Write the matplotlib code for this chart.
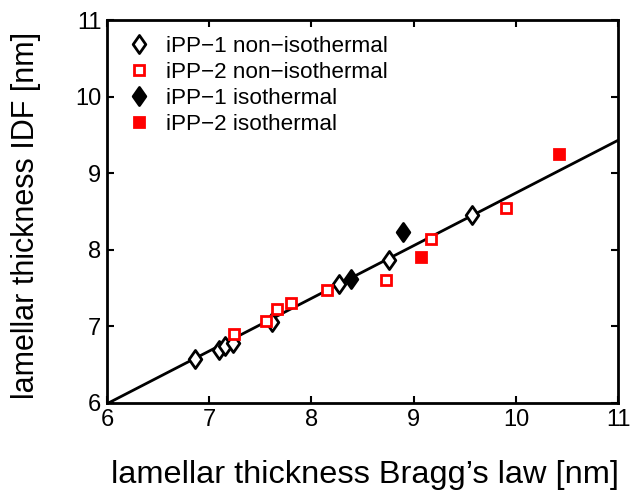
import numpy as np
import matplotlib.pyplot as plt
from matplotlib.path import Path

plt.rcParams['font.family'] = ['Liberation Sans', 'DejaVu Sans']

# lamellar thickness (Bragg's law, IDF) in nm
ipp1_non_x = [6.86, 7.10, 7.15, 7.23, 7.61, 8.27, 8.76, 9.57]
ipp1_non_y = [6.57, 6.69, 6.74, 6.78, 7.06, 7.55, 7.87, 8.45]

ipp2_non_x = [7.24, 7.56, 7.66, 7.80, 8.15, 8.73, 9.17, 9.90]
ipp2_non_y = [6.90, 7.07, 7.23, 7.31, 7.47, 7.61, 8.14, 8.55]

ipp1_iso_x = [8.39, 8.90]
ipp1_iso_y = [7.62, 8.23]

ipp2_iso_x = [9.07, 10.42]
ipp2_iso_y = [7.91, 9.25]

# linear fit
fit_x = [6.0, 11.0]
fit_y = [5.99, 9.43]

# taller-than-wide diamond
diamond = Path([(0, 1), (0.7, 0), (0, -1), (-0.7, 0), (0, 1)],
               [Path.MOVETO, Path.LINETO, Path.LINETO, Path.LINETO, Path.CLOSEPOLY])

fig = plt.figure(figsize=(6.32, 4.93), dpi=100)
ax = fig.add_axes([0.1693, 0.1826, 0.8087, 0.7768])

ax.plot(fit_x, fit_y, 'k-', lw=2, zorder=1)
ax.plot(ipp1_non_x, ipp1_non_y, marker=diamond, ms=13, mfc='white', mec='k', mew=2,
        ls='none', label='iPP\u22121 non\u2212isothermal', zorder=2)
ax.plot(ipp2_non_x, ipp2_non_y, 's', ms=7.5, mfc='white', mec='red', mew=2,
        ls='none', label='iPP\u22122 non\u2212isothermal', zorder=3)
ax.plot(ipp1_iso_x, ipp1_iso_y, marker=diamond, ms=13, mfc='k', mec='k', mew=2,
        ls='none', label='iPP\u22121 isothermal', zorder=3)
ax.plot(ipp2_iso_x, ipp2_iso_y, 's', ms=7.5, mfc='red', mec='red', mew=2,
        ls='none', label='iPP\u22122 isothermal', zorder=3)

ax.set_xlim(6, 11)
ax.set_ylim(6, 11)
ax.set_xticks(np.arange(6, 12, 1))
ax.set_yticks(np.arange(6, 12, 1))
ax.tick_params(direction='in', length=5, width=1.5, top=True, right=True,
               labelsize=17, pad=4)
for s in ax.spines.values():
    s.set_linewidth(2)

ax.set_xlabel("lamellar thickness Bragg\u2019s law [nm]", fontsize=23.4)
ax.set_ylabel('lamellar thickness IDF [nm]', fontsize=22)
ax.xaxis.set_label_coords(0.505, -0.15)
ax.yaxis.set_label_coords(-0.13, 0.49)

ax.legend(loc='upper left', frameon=False, fontsize=16.2, handlelength=1.0,
          handletextpad=0.7, labelspacing=0.22, borderaxespad=0.3,
          bbox_to_anchor=(0.01, 1.0))

fig.savefig('out.png', dpi=100)
